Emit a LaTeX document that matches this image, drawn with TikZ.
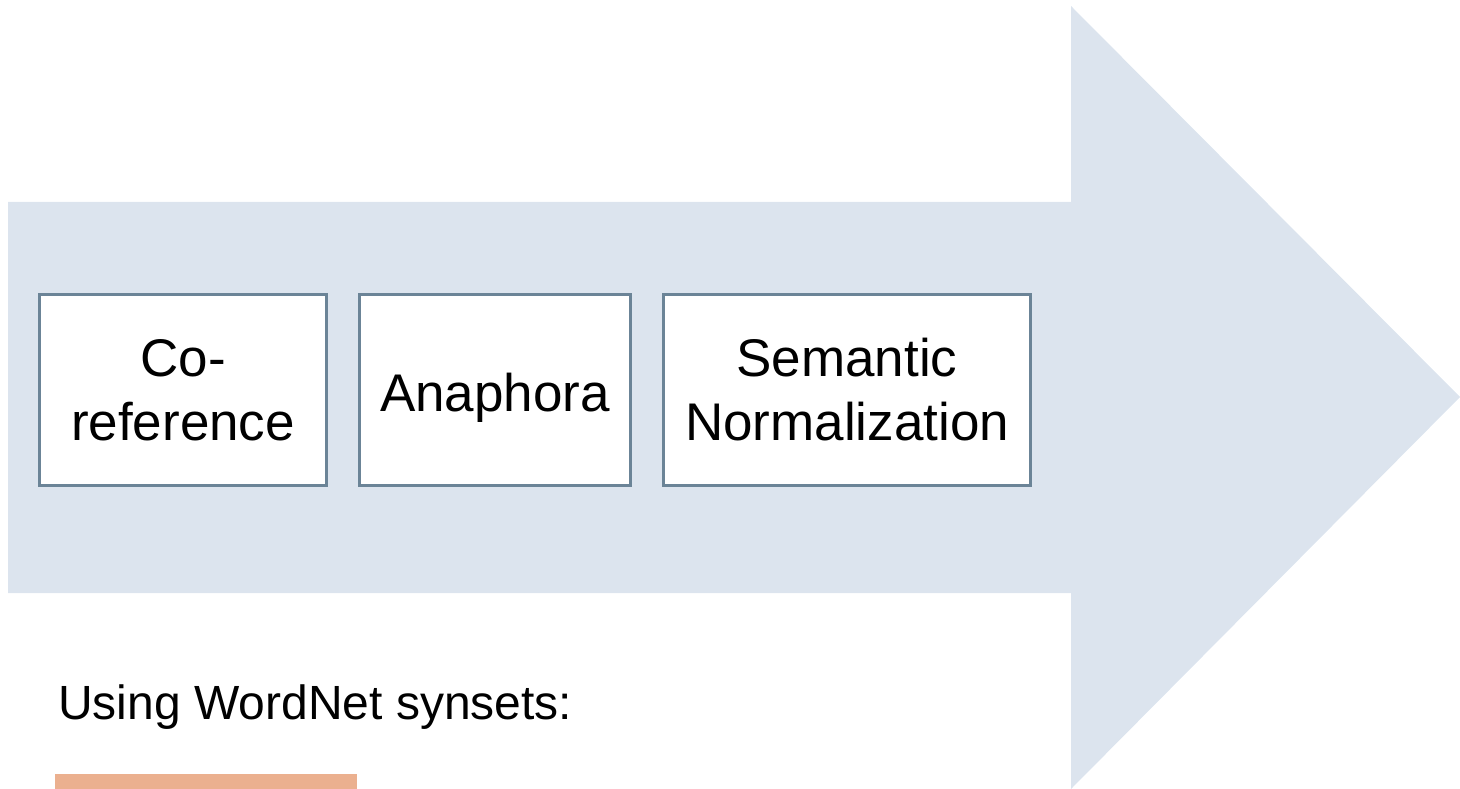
\documentclass[tikz,border=0pt]{standalone}
\usepackage{fontspec}
\setmainfont{Liberation Sans}
\definecolor{arrowfill}{HTML}{DCE4EE}
\definecolor{boxline}{HTML}{6B8497}
\definecolor{barfill}{HTML}{EBB08F}
\begin{document}
\begin{tikzpicture}[x=1pt,y=-1pt,
  stagebox/.style={draw=boxline, line width=3pt, fill=white, inner sep=0pt,
    minimum height=191pt, align=center, font=\fontsize{53}{64}\selectfont},
  label/.style={inner sep=0pt, anchor=base west, font=\fontsize{48}{56}\selectfont}]
\useasboundingbox (0,0) rectangle (1460,789);
\fill[arrowfill] (8,202) -- (1071,202) -- (1071,6) -- (1460,397) -- (1071,789) -- (1071,593) -- (8,593) -- cycle;
\node[stagebox, minimum width=287pt] (coref) at (183,390) {Co-\\reference};
\node[stagebox, minimum width=271pt, text height=43pt, text depth=0pt] (anaph) at (495,390) {Anaphora};
\node[stagebox, minimum width=367pt] (semnorm) at (847,390) {Semantic\\Normalization};
\node[label] (using) at (58,719) {Using WordNet synsets:};
\fill[barfill] (55,774) rectangle (357,789);
\end{tikzpicture}
\end{document}
